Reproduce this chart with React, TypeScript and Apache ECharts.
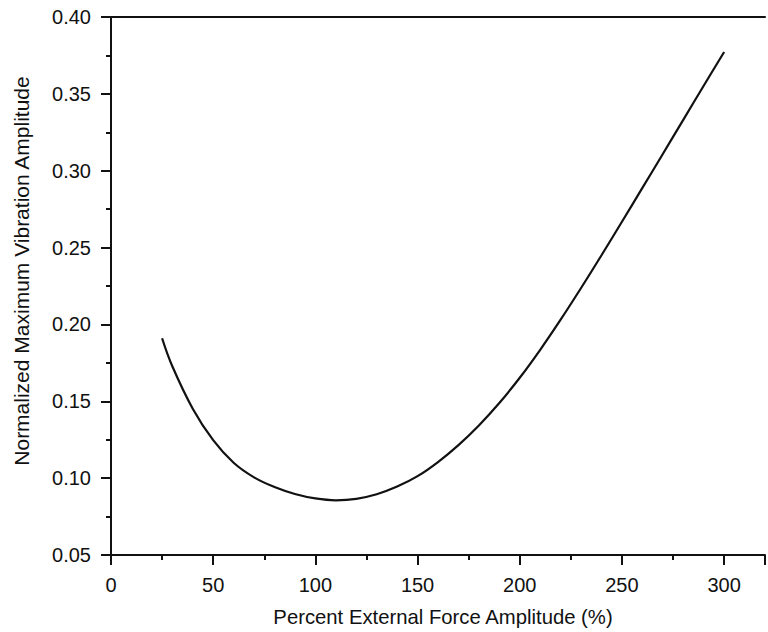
import React, { useEffect, useRef } from "react";
import * as echarts from "echarts";

const forcePercent = [25, 30, 40, 50, 60, 70, 80, 90, 100, 110, 120, 130, 140, 150, 160, 170, 180, 190, 200, 210, 220, 230, 240, 250, 260, 270, 280, 290, 300];
const maxAmplitude = [0.191, 0.1728, 0.1452, 0.1247, 0.11, 0.1005, 0.0942, 0.0897, 0.0868, 0.0856, 0.0865, 0.0895, 0.0945, 0.1013, 0.1105, 0.1215, 0.1343, 0.1489, 0.1653, 0.1835, 0.2031, 0.2237, 0.245, 0.2668, 0.2888, 0.3109, 0.3331, 0.3553, 0.3772];

const xTitle = "Percent External Force Amplitude (%)";
const yTitle = "Normalized Maximum Vibration Amplitude";

const FONT = "'Liberation Sans', Arial, Helvetica, sans-serif";
const INK = "#111";

export default function App() {
  const ref = useRef<HTMLDivElement>(null);
  useEffect(() => {
    if (!ref.current) return;
    const chart = echarts.init(ref.current, null, { renderer: "svg" });
    const seriesData = forcePercent.map((x, i) => [x, maxAmplitude[i]]);
    chart.setOption({
      animation: false,
      backgroundColor: "#fff",
      grid: { left: 111, top: 17, bottom: 76, right: -1, containLabel: false },
      xAxis: [
        {
          type: "value",
          min: 0,
          max: 320,
          interval: 50,
          position: "bottom",
          name: xTitle,
          nameLocation: "middle",
          nameGap: 52,
          nameTextStyle: { fontFamily: FONT, fontSize: 20.3, color: INK, padding: [0, 0, 0, 10] },
          axisLine: { show: true, lineStyle: { color: INK, width: 2 } },
          axisTick: { show: true, length: 10, lineStyle: { color: INK, width: 2 } },
          minorTick: { show: true, splitNumber: 2, length: 5, lineStyle: { color: INK, width: 2 } },
          axisLabel: {
            fontFamily: FONT,
            fontSize: 20,
            color: INK,
            margin: 20,
            formatter: (v: number) => (v > 300 ? "" : String(v)),
          },
          splitLine: { show: false },
          minorSplitLine: { show: false },
        },
        {
          type: "value",
          min: 0,
          max: 320,
          interval: 50,
          position: "top",
          axisLine: { show: true, lineStyle: { color: INK, width: 2 } },
          axisTick: { show: false },
          axisLabel: { show: false },
          splitLine: { show: false },
        },
      ],
      yAxis: {
        type: "value",
        min: 0.05,
        max: 0.4,
        interval: 0.05,
        name: yTitle,
        nameLocation: "middle",
        nameGap: 79,
        nameTextStyle: { fontFamily: FONT, fontSize: 21, color: INK, padding: [0, 0, 0, 30] },
        axisLine: { show: true, lineStyle: { color: INK, width: 2 } },
        axisTick: { show: true, length: 10, lineStyle: { color: INK, width: 2 } },
        minorTick: { show: true, splitNumber: 2, length: 5, lineStyle: { color: INK, width: 2 } },
        axisLabel: {
          fontFamily: FONT,
          fontSize: 20,
          color: INK,
          margin: 20,
          formatter: (v: number) => v.toFixed(2),
        },
        splitLine: { show: false },
        minorSplitLine: { show: false },
      },
      series: [
        {
          type: "line",
          data: seriesData,
          smooth: 0.4,
          showSymbol: false,
          lineStyle: { color: INK, width: 2.2 },
        },
      ],
    });
    return () => chart.dispose();
  }, []);
  return (
    <div
      ref={ref}
      style={{ position: "fixed", left: 0, top: 0, width: 768, height: 632, background: "#fff" }}
    />
  );
}
